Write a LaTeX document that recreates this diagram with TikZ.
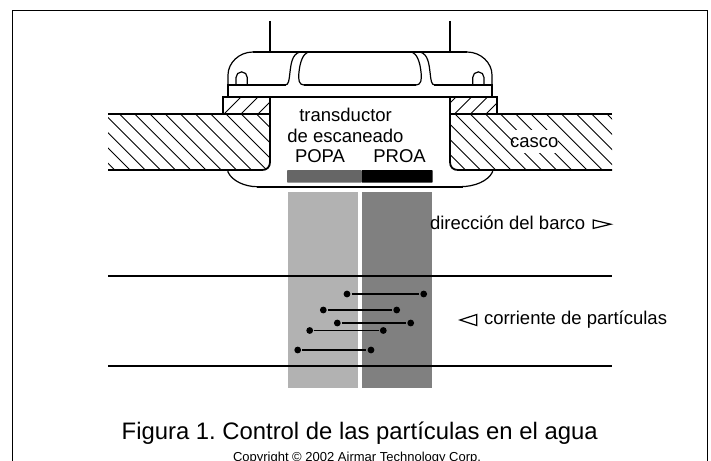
\documentclass[tikz,border=0pt]{standalone}
\usepackage{fontspec}
\setmainfont{Liberation Sans}
\frenchspacing
\tikzset{
  x=1pt,y=-1pt,
  heavy/.style={line width=1.8pt,black},
  thin line/.style={line width=1.2pt,black},
  hatchline/.style={line width=0.9pt,black},
  lbl/.style={anchor=base west,inner sep=0pt,outer sep=0pt,font=\fontsize{18.5}{20}\selectfont},
  dot/.style={circle,fill=black,minimum size=6.8pt,inner sep=0pt},
  track/.style={line width=1.9pt,black,shorten <=1pt,shorten >=1pt},
  tri/.style={line width=1.2pt,black,line join=miter}
}
\begin{document}
\begin{tikzpicture}
\useasboundingbox (0,0) rectangle (711,460);
\clip (0,0) rectangle (711,460);
\fill[white] (0,0) rectangle (711,460);
% frame
\draw[line width=1.1pt] (12.5,470) -- (12.5,10.5) -- (707.7,10.5) -- (707.7,470);
% beams
\fill[black!30] (288,192) rectangle (358,387.7);
\fill[black!50] (362,192) rectangle (432,387.7);
% bars
\fill[black!60,rounded corners=0.8pt] (287,170) rectangle (361.7,182.7);
\fill[black,rounded corners=0.8pt] (361.5,170) rectangle (432.7,182.7);
% hatching of hull
\begin{scope}
\clip (108,113.7) -- (270,113.7) -- (270,162) .. controls (270,167) and (267,170) .. (262,170) -- (108,170) -- cycle;
\foreach \k in {-5,...,11} \draw[hatchline] ({5.6+15.2*\k+100},100) -- ({5.6+15.2*\k+200},200);
\end{scope}
\begin{scope}
\clip (612,113.7) -- (450,113.7) -- (450,162) .. controls (450,167) and (453,170) .. (458,170) -- (612,170) -- cycle;
\foreach \k in {-5,...,12} \draw[hatchline] ({341+15.2*\k+100},100) -- ({341+15.2*\k+200},200);
\end{scope}
% hatching of flanges
\begin{scope}
\clip (223,97) rectangle (270,113.7);
\foreach \c in {338,355,372} \draw[hatchline] ({\c-90},90) -- ({\c-120},120);
\end{scope}
\begin{scope}
\clip (450,97) rectangle (497,113.7);
\foreach \c in {553,568.5,584.5,600} \draw[hatchline] ({\c-90},90) -- ({\c-120},120);
\end{scope}
% white patch behind the hull label
\fill[white] (514,130) rectangle (558,152.7);
% hull outline
\draw[heavy] (108,113.7) -- (223,113.7);
\draw[heavy] (108,170) -- (262,170) .. controls (267,170) and (270,167) .. (270,162) -- (270,97);
\draw[heavy] (612,113.7) -- (497,113.7);
\draw[heavy] (612,170) -- (458,170) .. controls (453,170) and (450,167) .. (450,162) -- (450,97);
\draw[heavy] (270,113.7) -- (223,113.7) -- (223,97) -- (497,97) -- (497,113.7) -- (450,113.7);
% plate
\draw[heavy] (228,97) -- (228,85) -- (286,85);
\draw[heavy] (492,97) -- (492,85) -- (434,85);
\draw[heavy] (304,85) -- (416,85);
% dome
\draw[heavy] (253,52) -- (467,52);
\draw[thin line] (228,85) -- (228,75) .. controls (228,63) and (239,52) .. (253,52);
\draw[thin line] (492,85) -- (492,75) .. controls (492,63) and (481,52) .. (467,52);
% wires
\draw[heavy] (270,21) -- (270,52);
\draw[heavy] (450,21) -- (450,52);
% handle curves
\draw[thin line] (300,52) .. controls (292,54) and (291,64) .. (290,72) .. controls (289,80) and (289,85) .. (285,85);
\draw[thin line] (308,52) .. controls (303,54) and (300,62) .. (299,72) .. controls (298,80) and (299,85) .. (304,85);
\draw[thin line] (412,52) .. controls (417,54) and (420,62) .. (421,72) .. controls (422,80) and (421,85) .. (416,85);
\draw[thin line] (420,52) .. controls (428,54) and (429,64) .. (430,72) .. controls (431,80) and (431,85) .. (435,85);
% humps
\draw[thin line] (236,85) -- (236,77.5) arc[start angle=180,end angle=360,radius=5.65] -- (247.3,85);
\draw[thin line] (472.7,85) -- (472.7,77.5) arc[start angle=180,end angle=360,radius=5.65] -- (484,85);
% lower lip
\draw[heavy] (257,186.7) -- (463,186.7);
\draw[thin line] (228,170) -- (228,172) .. controls (232,181) and (245,186.7) .. (257,186.7);
\draw[thin line] (492.5,170) -- (492.5,172) .. controls (488,181) and (475,186.7) .. (460,186.7);
% water lines
\draw[heavy] (108,275.7) -- (612,275.7);
\draw[heavy] (108,366) -- (612,366);
% particles
\foreach \n/\xa/\xb/\yy in {p1/347/423.7/294,p2/323.3/396.7/310,p3/337.3/410.7/323,p4/309.7/383.3/330.5,p5/297.7/371/350}{
  \node[dot] (\n a) at (\xa,\yy) {};
  \node[dot] (\n b) at (\xb,\yy) {};
  \draw[track] (\n a) -- (\n b);
}
% triangles
\draw[tri] (593.3,220) -- (610.7,224.2) -- (593.3,228.4) -- cycle;
\draw[tri] (476.7,314.5) -- (460,320) -- (476.7,325.5) -- cycle;
% labels
\node[lbl] (t1) at (299.3,121) {transductor};
\node[lbl] (t2) at (287.3,142.7) {de escaneado};
\node[lbl] (t3) at (295,162.7) {POPA};
\node[lbl] (t4) at (373.3,162.7) {PROA};
\node[lbl] (t5) at (510,147.3) {casco};
\node[lbl] (t6) at (430,229) {dirección del barco};
\node[lbl] (t7) at (484,324) {corriente de partículas};
\node[lbl,font=\fontsize{23.85}{26}\selectfont] (t8) at (121.7,439.3) {Figura 1. Control de las partículas en el agua};
\node[lbl,font=\fontsize{13}{15}\selectfont] (t9) at (233,461.5) {Copyright © 2002 Airmar Technology Corp.};
\end{tikzpicture}
\end{document}
